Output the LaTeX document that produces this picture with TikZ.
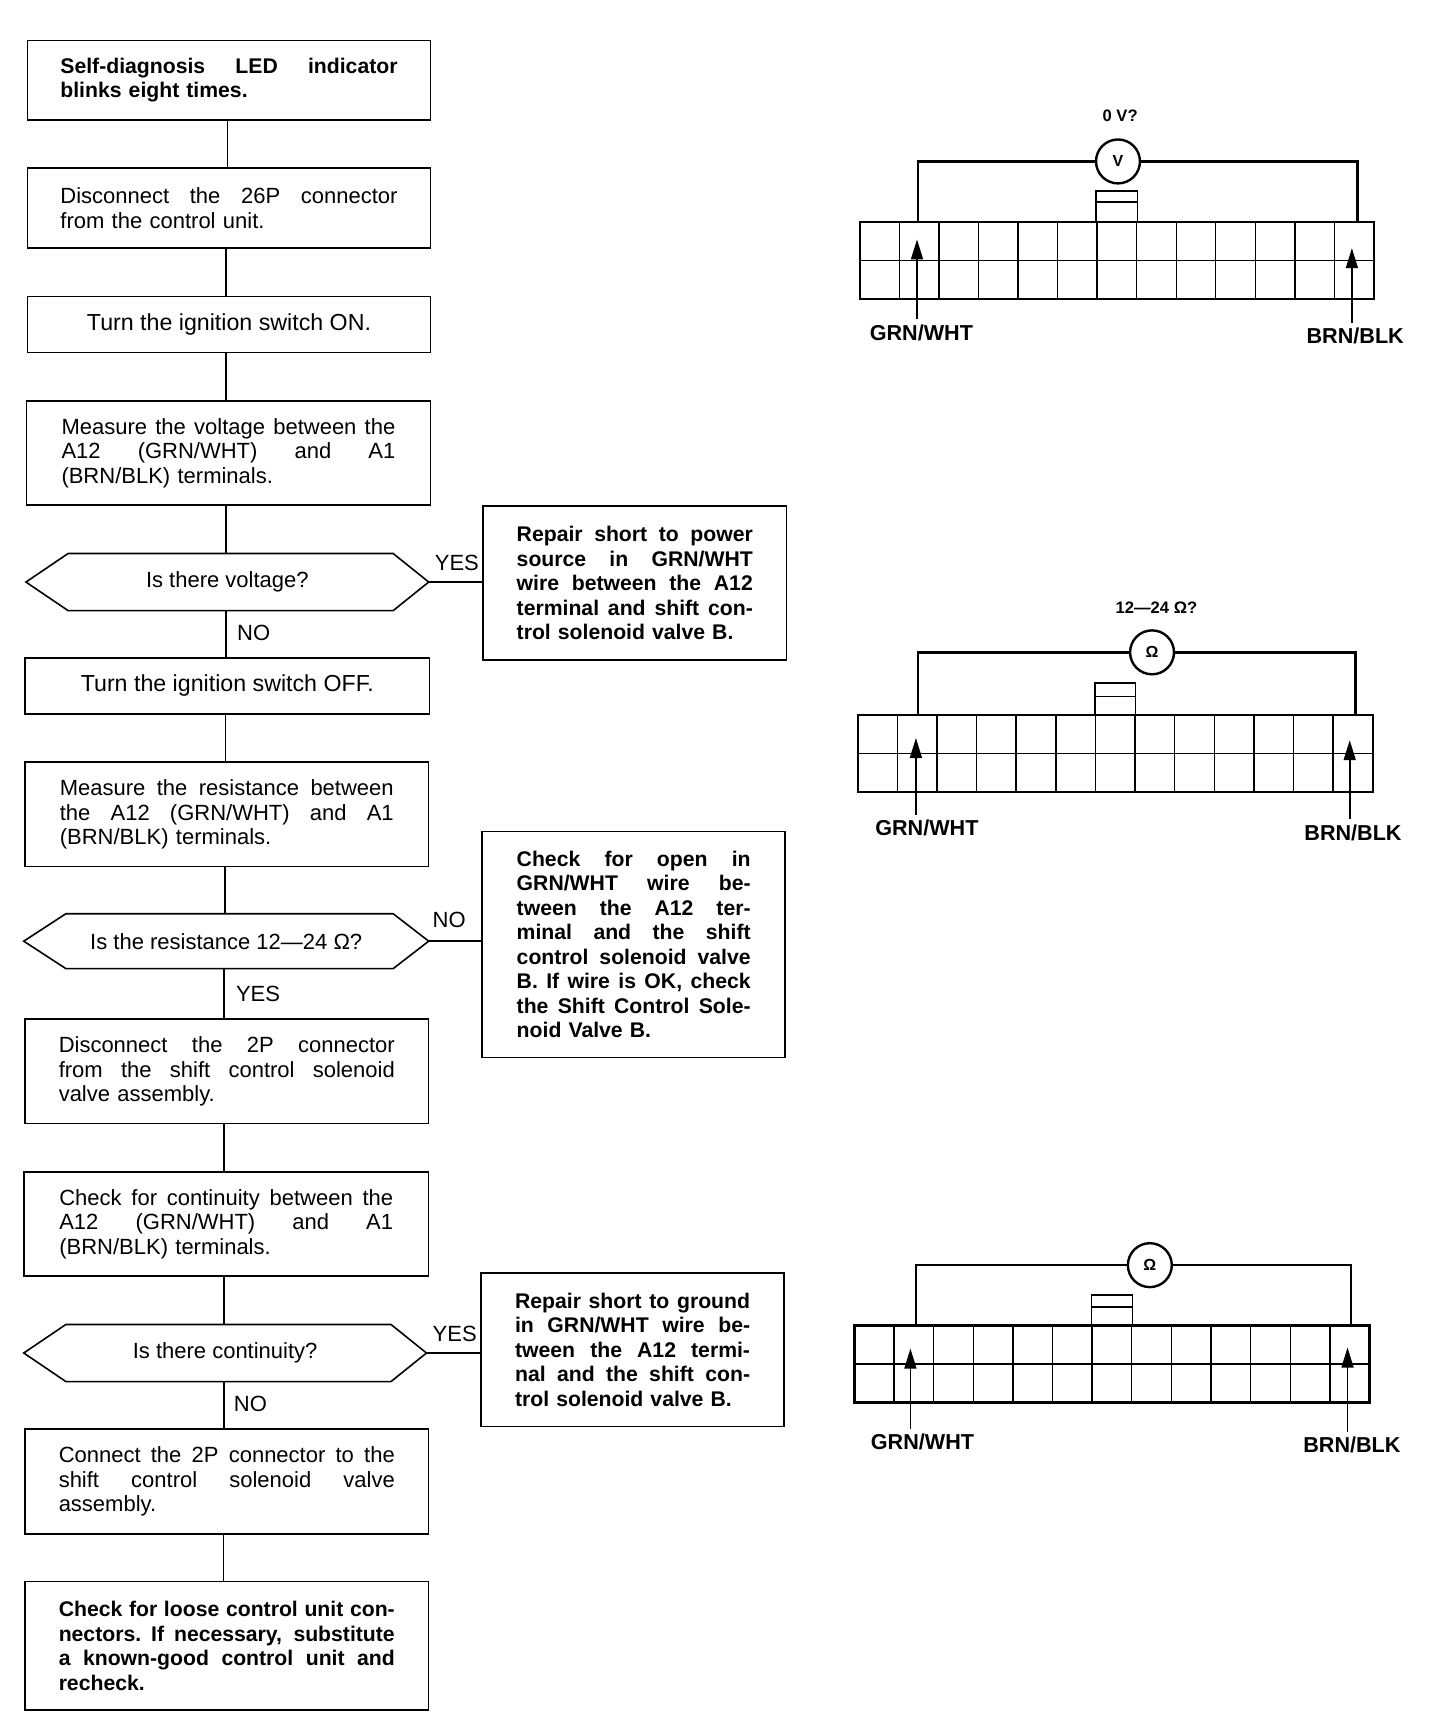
\documentclass[tikz,border=0pt]{standalone}
\usepackage{fontspec}
\setmainfont{Liberation Sans}
\usetikzlibrary{arrows.meta,calc}
\def\uu{0.5492pt}
\newcommand\JL[1]{\makebox[\hsize][s]{\spaceskip=.2em plus 1fil\relax\xspaceskip=.2em plus 1fil\relax #1}\\}
\newcommand\shim[1]{\par\vspace{#1}}
\tikzset{
  bx/.style={draw,line width=0.8pt,inner sep=0pt,font=\fontsize{11}{12.25}\selectfont},
  bd/.style={bx,font=\fontsize{10.6}{12.25}\selectfont\bfseries},
  lbl/.style={inner sep=0pt,font=\fontsize{11}{12}\selectfont},
  lblw/.style={bx,font=\fontsize{11.6}{12.25}\selectfont},
  link/.style={line width=0.8pt},
  wire/.style={line width=1.3pt},
  tag/.style={inner sep=0pt,font=\fontsize{10.8}{12}\selectfont\bfseries},
  top/.style={inner sep=0pt,font=\fontsize{8.3}{9}\selectfont\bfseries},
  meter/.style={circle,draw,line width=1.2pt,fill=white,minimum size={40*\uu},inner sep=0pt,font=\fontsize{8}{9}\selectfont\bfseries},
  pointer/.style={line width=0.8pt,shorten <=2.5pt,-{Triangle[length=10pt,width=6pt]}},
  grid/.style={line width=0.7pt}
}
% name, x1,y1,x2,y2, text-width, style, text
\newcommand\rbox[8]{\node[#7,text width={(#6)*\uu},align=left,minimum width={(#4-#2)*\uu},minimum height={(#5-#3)*\uu}] (#1) at ({(#2+#4)/2},{(#3+#5)/2}) {#8};}
% name, x1,x2,y1,y2, shoulderL, shoulderR, text
\newcommand\hexa[8]{\node[lbl,minimum width={(#3-#2)*\uu},minimum height={(#5-#4)*\uu}] (#1) at ({(#2+#3)/2},{(#4+#5)/2}) {#8};
  \draw[line width=0.8pt] (#1.west) -- (#6,#4) -- (#7,#4) -- (#1.east) -- (#7,#5) -- (#6,#5) -- cycle;}
% name, x1,y1,x2,y2, key x1,key x2,key top,key line
\newcommand\conn[9]{\node[draw,line width=1.1pt,inner sep=0pt,minimum width={(#4-#2)*\uu},minimum height={(#5-#3)*\uu}] (#1) at ({(#2+#4)/2},{(#3+#5)/2}) {};
  \foreach \i in {1,...,12} \draw[grid] ({#2+\i*(#4-#2)/13},#3) -- ({#2+\i*(#4-#2)/13},#5);
  \draw[grid] (#1.west) -- (#1.east);
  \draw[grid] (#6,#3) -- (#6,#8) -- (#7,#8) -- (#7,#3);
  \draw[line width=1.1pt] (#6,#8) -- (#7,#8);
  \draw[grid] (#6,#9) -- (#7,#9);}
\newcommand\vlink[3]{\draw[link] ([xshift=#3*\uu]#1.south) -- ([xshift=#3*\uu]#1.south |- #2.north);}
\begin{document}
\begin{tikzpicture}[x=\uu,y=-\uu]
\useasboundingbox (0,0) rectangle (1311,1568);
\fill[white] (0,0) rectangle (1311,1568);
% left column
\rbox{b1}{25}{37}{392}{109}{307}{bd}{\JL{Self-diagnosis LED indicator}blinks eight times.}
\rbox{b2}{25}{153}{392}{226}{307}{bx}{\JL{Disconnect the 26P connector}from the control unit.\shim{2.2pt}}
\node[lblw,minimum width={367*\uu},minimum height={51*\uu}] (b3) at (208.5,295.5) {Turn the ignition switch ON.};
\rbox{b4}{24}{365}{392}{460}{304}{bx}{\JL{Measure the voltage between the}\JL{A12 (GRN/WHT) and A1}(BRN/BLK) terminals.}
\hexa{h1}{24}{390}{504}{556}{62}{358}{Is there voltage?}
\node[lblw,minimum width={368*\uu},minimum height={51*\uu}] (b5) at (207,624.5) {Turn the ignition switch OFF.};
\rbox{b6}{23}{694}{390}{789}{304}{bx}{\JL{Measure the resistance between}\JL{the A12 (GRN/WHT) and A1}(BRN/BLK) terminals.\shim{-2.2pt}}
\hexa{h2}{22}{390}{832}{882}{60}{358}{Is the resistance 12—24 Ω?}
\rbox{b7}{23}{928}{390}{1023}{306}{bx}{\JL{Disconnect the 2P connector}\JL{from the shift control solenoid}valve assembly.\shim{-2.2pt}}
\rbox{b8}{22}{1067}{390}{1162}{304}{bx}{\JL{Check for continuity between the}\JL{A12 (GRN/WHT) and A1}(BRN/BLK) terminals.\shim{-2.6pt}}
\hexa{h3}{22}{388}{1206}{1258}{60}{356}{Is there continuity?}
\rbox{b9}{23}{1301}{390}{1397}{306}{bx}{\JL{Connect the 2P connector to the}\JL{shift control solenoid valve}assembly.}
\rbox{b10}{23}{1440}{390}{1557}{306}{bd}{\JL{Check for loose control unit con-}\JL{nectors. If necessary, substitute}\JL{a known-good control unit and}recheck.\shim{1.1pt}}
% right column
\rbox{r1}{440}{461}{716}{601}{215}{bd}{\JL{Repair short to power}\JL{source in GRN/WHT}\JL{wire between the A12}\JL{terminal and shift con-}trol solenoid valve B.\shim{2.2pt}}
\rbox{r2}{439}{757}{715}{963}{213}{bd}{\JL{Check for open in}\JL{GRN/WHT wire be-}\JL{tween the A12 ter-}\JL{minal and the shift}\JL{control solenoid valve}\JL{B. If wire is OK, check}\JL{the Shift Control Sole-}noid Valve B.\shim{2.2pt}}
\rbox{r3}{438}{1159}{714}{1299}{214}{bd}{\JL{Repair short to ground}\JL{in GRN/WHT wire be-}\JL{tween the A12 termi-}\JL{nal and the shift con-}trol solenoid valve B.\shim{2.2pt}}
% links
\vlink{b1}{b2}{-1.5}
\vlink{b2}{b3}{-2.5}
\vlink{b3}{b4}{-2.5}
\vlink{b4}{h1}{-2}
\vlink{h1}{b5}{-1}
\vlink{b5}{b6}{-1.5}
\vlink{b6}{h2}{-1.5}
\vlink{h2}{b7}{-2}
\vlink{b7}{b8}{-2.5}
\vlink{b8}{h3}{-2}
\vlink{h3}{b9}{-1}
\vlink{b9}{b10}{-3}
\draw[link] (h1.east) -- (h1.east -| r1.west);
\draw[link] (h2.east) -- (h2.east -| r2.west);
\draw[link] (h3.east) -- (h3.east -| r3.west);
\node[lbl] (y1) at (416,513) {YES};
\node[lbl] (n1) at (231,576) {NO};
\node[lbl] (n2) at (409,838) {NO};
\node[lbl] (y2) at (235,905) {YES};
\node[lbl] (y3) at (414,1215) {YES};
\node[lbl] (n3) at (228,1278) {NO};
% connector 1
\conn{c1}{783}{202}{1251}{272}{998}{1036}{174}{184}
\node[meter] (m1) at (1018,147) {V};
\node[top] (t1) at (1020,105) {0 V?};
\draw[wire] (m1.west) -| (836,202);
\draw[wire] (m1.east) -| (1236,202);
\node[tag] (g1) at (839,303) {GRN/WHT};
\node[tag] (k1) at (1234,306) {BRN/BLK};
\coordinate (pa1) at (835,218);
\coordinate (pb1) at (1231,226);
\draw[pointer] (g1.north -| pa1) -- (pa1);
\draw[pointer] (k1.north -| pb1) -- (pb1);
% connector 2
\conn{c2}{781}{651}{1250}{721}{997}{1034}{622}{634}
\node[meter] (m2) at (1049,594) {Ω};
\node[top] (t2) at (1053,553) {12—24 Ω?};
\draw[wire] (m2.west) -| (836,651);
\draw[wire] (m2.east) -| (1234,651);
\node[tag] (g2) at (844,754) {GRN/WHT};
\node[tag] (k2) at (1232,758) {BRN/BLK};
\coordinate (pa2) at (834,672);
\coordinate (pb2) at (1229,674);
\draw[pointer] (g2.north -| pa2) -- (pa2);
\draw[pointer] (k2.north -| pb2) -- (pb2);
% connector 3
\conn{c3}{778}{1207}{1247}{1277}{994}{1031}{1179}{1190}
\node[meter] (m3) at (1047,1152) {Ω};
\draw[wire] (m3.west) -| (834,1207);
\draw[wire] (m3.east) -| (1230,1207);
\node[tag] (g3) at (840,1313) {GRN/WHT};
\node[tag] (k3) at (1231,1316) {BRN/BLK};
\coordinate (pa3) at (829,1228);
\coordinate (pb3) at (1227,1227);
\draw[pointer] (g3.north -| pa3) -- (pa3);
\draw[pointer] (k3.north -| pb3) -- (pb3);
\end{tikzpicture}
\end{document}
